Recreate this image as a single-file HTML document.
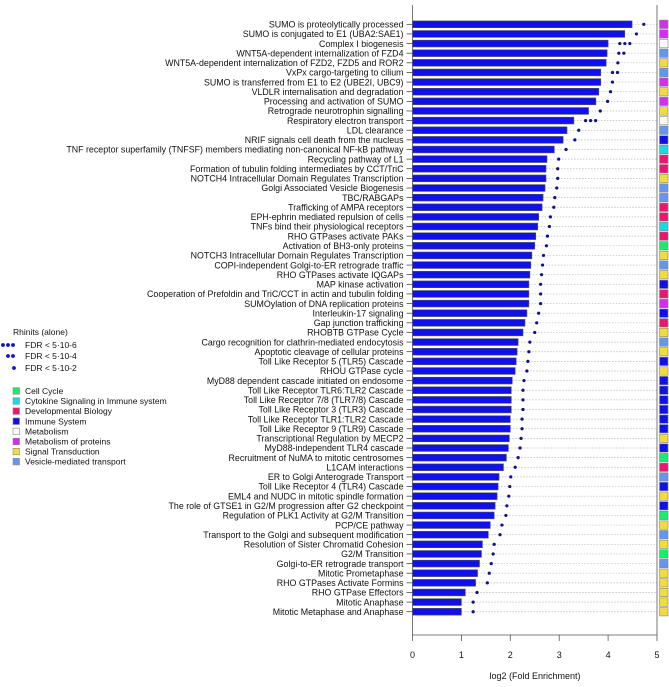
<!DOCTYPE html>
<html><head><meta charset="utf-8"><style>
body{margin:0;background:#fff;}
svg text{font-family:"Liberation Sans",Arial,sans-serif;}
</style></head><body>
<svg id="chart" width="669" height="682" xmlns="http://www.w3.org/2000/svg">
<g id="legend">
<text x="13" y="335" font-size="8.5" fill="#111">Rhinits (alone)</text>
<g><circle cx="3" cy="345" r="1.9" fill="#1010d0"/><circle cx="8" cy="345" r="1.9" fill="#1010d0"/><circle cx="13" cy="345" r="1.9" fill="#1010d0"/><text x="25" y="348" font-size="8.5" fill="#111">FDR &lt; 5·10-6</text></g>
<g><circle cx="8" cy="356" r="1.9" fill="#1010d0"/><circle cx="13" cy="356" r="1.9" fill="#1010d0"/><text x="25" y="359" font-size="8.5" fill="#111">FDR &lt; 5·10-4</text></g>
<g><circle cx="14" cy="368" r="1.9" fill="#1010d0"/><text x="25" y="371" font-size="8.5" fill="#111">FDR &lt; 5·10-2</text></g>
</g>
<g id="catlegend"></g>
<g id="plot"></g>
<text x="535" y="679" font-size="9" text-anchor="middle" fill="#111">log2 (Fold Enrichment)</text>
</svg>
<script>
const labels=["SUMO is proteolytically processed","SUMO is conjugated to E1 (UBA2:SAE1)","Complex I biogenesis","WNT5A-dependent internalization of FZD4","WNT5A-dependent internalization of FZD2, FZD5 and ROR2","VxPx cargo-targeting to cilium","SUMO is transferred from E1 to E2 (UBE2I, UBC9)","VLDLR internalisation and degradation","Processing and activation of SUMO","Retrograde neurotrophin signalling","Respiratory electron transport","LDL clearance","NRIF signals cell death from the nucleus","TNF receptor superfamily (TNFSF) members mediating non-canonical NF-kB pathway","Recycling pathway of L1","Formation of tubulin folding intermediates by CCT/TriC","NOTCH4 Intracellular Domain Regulates Transcription","Golgi Associated Vesicle Biogenesis","TBC/RABGAPs","Trafficking of AMPA receptors","EPH-ephrin mediated repulsion of cells","TNFs bind their physiological receptors","RHO GTPases activate PAKs","Activation of BH3-only proteins","NOTCH3 Intracellular Domain Regulates Transcription","COPI-independent Golgi-to-ER retrograde traffic","RHO GTPases activate IQGAPs","MAP kinase activation","Cooperation of Prefoldin and TriC/CCT  in actin and tubulin folding","SUMOylation of DNA replication proteins","Interleukin-17 signaling","Gap junction trafficking","RHOBTB GTPase Cycle","Cargo recognition for clathrin-mediated endocytosis","Apoptotic cleavage of cellular proteins","Toll Like Receptor 5 (TLR5) Cascade","RHOU GTPase cycle","MyD88 dependent cascade initiated on endosome","Toll Like Receptor TLR6:TLR2 Cascade","Toll Like Receptor 7/8 (TLR7/8) Cascade","Toll Like Receptor 3 (TLR3) Cascade","Toll Like Receptor TLR1:TLR2 Cascade","Toll Like Receptor 9 (TLR9) Cascade","Transcriptional Regulation by MECP2","MyD88-independent TLR4 cascade","Recruitment of NuMA to mitotic centrosomes","L1CAM interactions","ER to Golgi Anterograde Transport","Toll Like Receptor 4 (TLR4) Cascade","EML4 and NUDC in mitotic spindle formation","The role of GTSE1 in G2/M progression after G2 checkpoint","Regulation of PLK1 Activity at G2/M Transition","PCP/CE pathway","Transport to the Golgi and subsequent modification","Resolution of Sister Chromatid Cohesion","G2/M Transition","Golgi-to-ER retrograde transport","Mitotic Prometaphase","RHO GTPases Activate Formins","RHO GTPase Effectors","Mitotic Anaphase","Mitotic Metaphase and Anaphase"];
const values=[4.49,4.34,4.0,3.98,3.96,3.85,3.85,3.81,3.75,3.6,3.3,3.16,3.08,2.9,2.75,2.73,2.73,2.71,2.67,2.65,2.58,2.56,2.52,2.5,2.44,2.42,2.4,2.38,2.38,2.38,2.34,2.3,2.26,2.16,2.14,2.12,2.1,2.04,2.02,2.02,2.02,2.0,2.0,1.98,1.96,1.92,1.86,1.77,1.75,1.73,1.69,1.67,1.59,1.55,1.43,1.41,1.37,1.33,1.29,1.08,1.0,1.0];
const dotCounts=[1,1,3,2,1,2,1,1,1,1,3,1,1,1,1,1,1,1,1,1,1,1,1,1,1,1,1,1,1,1,1,1,1,1,1,1,1,1,1,1,1,1,1,1,1,1,1,1,1,1,1,1,1,1,1,1,1,1,1,1,1,1];
const cats=["P","P","M","V","S","V","P","S","P","S","M","V","I","C","D","D","S","V","V","D","D","C","D","G","S","V","S","I","D","P","I","D","S","V","S","I","S","I","I","I","I","I","I","S","I","G","D","V","I","S","I","G","S","V","S","G","V","S","S","S","S","S"];
const catNames=["Cell Cycle","Cytokine Signaling in Immune system","Developmental Biology","Immune System","Metabolism","Metabolism of proteins","Signal Transduction","Vesicle-mediated transport"];
const catKeys=["G","C","D","I","M","P","S","V"];
const catColors={G:"#14f06e",C:"#19dbe8",D:"#f0146e",I:"#1010e8",M:"#fafaf5",P:"#d22ef0",S:"#f0dc3c",V:"#6496f0"};
const xTicks=[0,1,2,3,4,5];
const NS="http://www.w3.org/2000/svg";
const X0=412.5,X1=657,Y0=24.3,STEP=9.63,TOP=5,BOT=635;
const xs=v=>X0+(X1-X0)*v/5;
const ys=i=>Y0+i*STEP;
function mk(t,a,p){const e=document.createElementNS(NS,t);for(const k in a)e.setAttribute(k,a[k]);p.appendChild(e);return e;}
const plot=document.getElementById('plot');
labels.forEach((lab,i)=>{
 const y=ys(i),v=values[i];
 const g=mk('line',{x1:xs(v),x2:X1,y1:y,y2:y,stroke:'#bbb','stroke-width':0.7,'stroke-dasharray':'1.5,1.5'},plot);
 
 
 const r=mk('rect',{x:X0,y:y-3.4,width:xs(v)-X0,height:6.8,fill:'#1010e8',stroke:'#555','stroke-width':0.6},plot);
 
 
 for(let k=0;k<dotCounts[i];k++){
  const c=mk('circle',{cx:xs(v+0.24)+k*5,cy:y,r:1.6,fill:'#10108a'},plot);
  
  
 }
 const tk=mk('line',{x1:X0-6,x2:X0,y1:y,y2:y,stroke:'#333','stroke-width':0.7},plot);
 
 
 const t=mk('text',{x:X0-9,y:y+3.2,'font-size':8.85,'text-anchor':'end',fill:'#111'},plot);
 t.textContent=lab;
 
 
 const b=mk('rect',{x:659.5,y:y-4.2,width:8.5,height:8.4,fill:catColors[cats[i]],stroke:'#888','stroke-width':0.6},plot);
 
 
});
mk('line',{x1:X0,x2:X0,y1:TOP,y2:BOT,stroke:'#555','stroke-width':0.8},plot);
mk('line',{x1:X1,x2:X1,y1:TOP,y2:BOT,stroke:'#555','stroke-width':0.8},plot);
mk('line',{x1:X0,x2:X1,y1:BOT,y2:BOT,stroke:'#555','stroke-width':0.8},plot);
xTicks.forEach(v=>{
 mk('line',{x1:xs(v),x2:xs(v),y1:BOT,y2:BOT+6,stroke:'#555','stroke-width':0.8},plot);
 const t=mk('text',{x:xs(v),y:BOT+23,'font-size':9,'text-anchor':'middle',fill:'#111'},plot);
 t.textContent=v;
 
 
});
const cl=document.getElementById('catlegend');
catNames.forEach((n,i)=>{
 const y=391+i*10.1;
 const r=mk('rect',{x:13,y:y-3.3,width:6.5,height:6.5,fill:catColors[catKeys[i]],stroke:'#888','stroke-width':0.6},cl);
 
 
 const t=mk('text',{x:25,y:y+3,'font-size':8.5,fill:'#111'},cl);
 t.textContent=n;
 
 
});
</script>
</body></html>
